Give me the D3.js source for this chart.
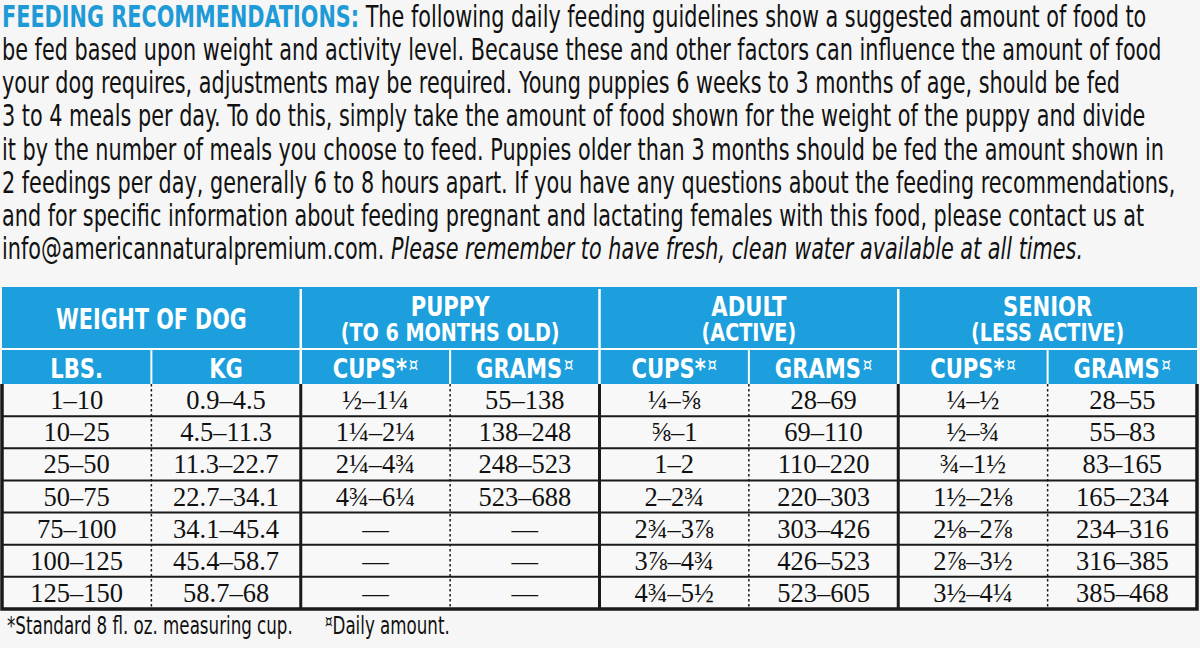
<!DOCTYPE html>
<html><head><meta charset="utf-8">
<script src="https://cdn.jsdelivr.net/npm/d3@7/dist/d3.min.js"></script>
<style>
html,body{margin:0;padding:0;background:#f6f6f6;}
svg{display:block;}
</style></head>
<body>
<svg id="chart" width="1200" height="648"></svg>
<script>
// ---------- DATA ----------
const titleLead = "FEEDING RECOMMENDATIONS:";
const paragraphLines = [
  " The following daily feeding guidelines show a suggested amount of food to",
  "be fed based upon weight and activity level. Because these and other factors can influence the amount of food",
  "your dog requires, adjustments may be required. Young puppies 6 weeks to 3 months of age, should be fed",
  "3 to 4 meals per day. To do this, simply take the amount of food shown for the weight of the puppy and divide",
  "it by the number of meals you choose to feed. Puppies older than 3 months should be fed the amount shown in",
  "2 feedings per day, generally 6 to 8 hours apart. If you have any questions about the feeding recommendations,",
  "and for specific information about feeding pregnant and lactating females with this food, please contact us at",
  "info@americannaturalpremium.com. "
];
const italicTail = "Please remember to have fresh, clean water available at all times.";

const groupLabels = [["WEIGHT OF DOG"], ["PUPPY", "(TO 6 MONTHS OLD)"], ["ADULT", "(ACTIVE)"], ["SENIOR", "(LESS ACTIVE)"]];
const subLabels = ["LBS.", "KG", "CUPS*", "GRAMS", "CUPS*", "GRAMS", "CUPS*", "GRAMS"];
const subMarks  = ["", "", "¤", "¤", "¤", "¤", "¤", "¤"];

const lbs         = ["1–10","10–25","25–50","50–75","75–100","100–125","125–150"];
const kg          = ["0.9–4.5","4.5–11.3","11.3–22.7","22.7–34.1","34.1–45.4","45.4–58.7","58.7–68"];
const puppyCups   = ["½–1¼","1¼–2¼","2¼–4¾","4¾–6¼","—","—","—"];
const puppyGrams  = ["55–138","138–248","248–523","523–688","—","—","—"];
const adultCups   = ["¼–⅝","⅝–1","1–2","2–2¾","2¾–3⅞","3⅞–4¾","4¾–5½"];
const adultGrams  = ["28–69","69–110","110–220","220–303","303–426","426–523","523–605"];
const seniorCups  = ["¼–½","½–¾","¾–1½","1½–2⅛","2⅛–2⅞","2⅞–3½","3½–4¼"];
const seniorGrams = ["28–55","55–83","83–165","165–234","234–316","316–385","385–468"];

const footnotes = ["*Standard 8 fl. oz. measuring cup.", "¤Daily amount."];

// ---------- SETUP ----------
const columns = [lbs, kg, puppyCups, puppyGrams, adultCups, adultGrams, seniorCups, seniorGrams];
const svg = d3.select("#chart");
const W = 1200, H = 648;
const BLUE = "#1c9fdc";
const sansC = "'Liberation Sans Narrow','DejaVu Sans Condensed','Roboto Condensed',sans-serif";
const serif = "'Liberation Serif','DejaVu Serif',serif";

svg.append("rect").attr("width", W).attr("height", H).attr("fill", "#f6f6f6");

// ---------- PARAGRAPH ----------
const para = svg.append("g");
const lineY = d3.scaleLinear().domain([0, 7]).range([27, 259]);
const pText = para.selectAll("text.pl").data(paragraphLines).join("text")
  .attr("class", "pl")
  .attr("x", 0).attr("y", (d, i) => lineY(i))
  .attr("font-family", sansC).attr("font-size", 31).attr("fill", "#111");
pText.each(function(d, i) {
  const t = d3.select(this);
  if (i === 0) t.append("tspan").attr("fill", "#1e9ad6").attr("font-weight", "bold").text(titleLead);
  t.append("tspan").text(d);
  if (i === paragraphLines.length - 1) t.append("tspan").attr("font-style", "italic").text(italicTail);
});
const w2 = pText.nodes()[1].getComputedTextLength();
const kx = 1160 / w2;
pText.attr("transform", `translate(2,0) scale(${kx},1)`);

// ---------- TABLE ----------
const x = d3.scaleBand().domain(d3.range(8)).range([2, 1197]);
const y = d3.scaleBand().domain(d3.range(lbs.length)).range([384, 609]);
const headTop = 287, headMid = 349, headBot = 384;

svg.append("rect").attr("x", x(0)).attr("y", headTop).attr("width", x.range()[1] - x(0))
  .attr("height", headBot - headTop).attr("fill", BLUE);
svg.append("rect").attr("x", x(0)).attr("y", headBot).attr("width", x.range()[1] - x(0))
  .attr("height", y.range()[1] - headBot).attr("fill", "#f8f8f8");

svg.append("line").attr("x1", x(0)).attr("x2", x.range()[1]).attr("y1", headMid).attr("y2", headMid)
  .attr("stroke", "#fff").attr("stroke-width", 2);
svg.selectAll("line.gsep").data([2, 4, 6]).join("line").attr("class", "gsep")
  .attr("x1", d => x(d)).attr("x2", d => x(d)).attr("y1", headTop + 2).attr("y2", headBot)
  .attr("stroke", "#fff").attr("stroke-width", 2.5);
svg.selectAll("line.ssep").data([1, 3, 5, 7]).join("line").attr("class", "ssep")
  .attr("x1", d => x(d)).attr("x2", d => x(d)).attr("y1", headMid).attr("y2", headBot)
  .attr("stroke", "#fff").attr("stroke-width", 2);

// header texts
const hk = 0.87;
const gg = svg.selectAll("g.grp").data(groupLabels).join("g").attr("class", "grp")
  .attr("transform", (d, i) => `translate(${x(i * 2) + x.bandwidth()},0)`);
gg.each(function(d) {
  const g = d3.select(this);
  const t = g.append("text").attr("text-anchor", "middle")
    .attr("font-family", sansC).attr("font-weight", "bold").attr("fill", "#fff");
  if (d.length === 1) {
    t.attr("transform", `translate(0,329) scale(${hk * 0.96},1)`).attr("font-size", 27.5).text(d[0]);
  } else {
    t.attr("transform", `translate(0,316) scale(${hk},1)`);
    t.append("tspan").attr("x", 0).attr("font-size", 27).text(d[0]);
    t.append("tspan").attr("x", 0).attr("dy", 25).attr("font-size", 24.5).text(d[1]);
  }
});
svg.selectAll("text.sub").data(subLabels).join("text").attr("class", "sub")
  .attr("transform", (d, i) => `translate(${x(i) + x.bandwidth() / 2},377.5) scale(${hk},1)`)
  .attr("text-anchor", "middle").attr("font-family", sansC).attr("font-weight", "bold")
  .attr("font-size", 27).attr("fill", "#fff")
  .each(function(d, i) {
    const t = d3.select(this);
    t.append("tspan").text(d);
    if (subMarks[i]) t.append("tspan").attr("font-size", 19).attr("font-weight", "normal").attr("dy", -7).attr("dx", 2).text(subMarks[i]);
  });

// cells
const cells = [];
columns.forEach((col, c) => col.forEach((v, r) => cells.push({c, r, v})));
svg.selectAll("text.cell").data(cells).join("text").attr("class", "cell")
  .attr("x", d => x(d.c) + x.bandwidth() / 2)
  .attr("y", d => y(d.r) + y.bandwidth() / 2 + 9)
  .attr("text-anchor", "middle").attr("font-family", serif).attr("font-size", 26.5)
  .attr("fill", "#111").text(d => d.v);

svg.selectAll("line.rowl").data(d3.range(1, lbs.length)).join("line").attr("class", "rowl")
  .attr("x1", x(0)).attr("x2", x.range()[1]).attr("y1", d => y(d)).attr("y2", d => y(d))
  .attr("stroke", "#1a1a1a").attr("stroke-width", 2);
svg.selectAll("line.dot").data([1, 3, 5, 7]).join("line").attr("class", "dot")
  .attr("x1", d => x(d)).attr("x2", d => x(d)).attr("y1", headBot).attr("y2", y.range()[1])
  .attr("stroke", "#1a1a1a").attr("stroke-width", 1.5).attr("stroke-dasharray", "2.5,2.5");
svg.selectAll("line.gl").data([2, 4, 6]).join("line").attr("class", "gl")
  .attr("x1", d => x(d)).attr("x2", d => x(d)).attr("y1", headBot).attr("y2", y.range()[1])
  .attr("stroke", "#1a1a1a").attr("stroke-width", 3);
svg.append("path")
  .attr("d", `M${x(0)},${headBot}V${y.range()[1]}H${x.range()[1]}V${headBot}`)
  .attr("fill", "none").attr("stroke", "#1a1a1a").attr("stroke-width", 3.5);

// ---------- FOOTNOTES ----------
const fx = [7, 325];
const fn = svg.selectAll("text.fn").data(footnotes).join("text").attr("class", "fn")
  .attr("x", 0).attr("y", 0)
  .attr("font-family", sansC).attr("font-size", 24).attr("fill", "#111")
  .each(function(d) {
    const t = d3.select(this);
    if (d[0] === "¤") {
      t.append("tspan").attr("font-size", 17).attr("dy", -7).text("¤");
      t.append("tspan").attr("dy", 7).text(d.slice(1));
    } else t.text(d);
  });
const fk = 286 / fn.nodes()[0].getComputedTextLength();
fn.attr("transform", (d, i) => `translate(${fx[i]},634) scale(${fk},1)`);
</script>
</body></html>
